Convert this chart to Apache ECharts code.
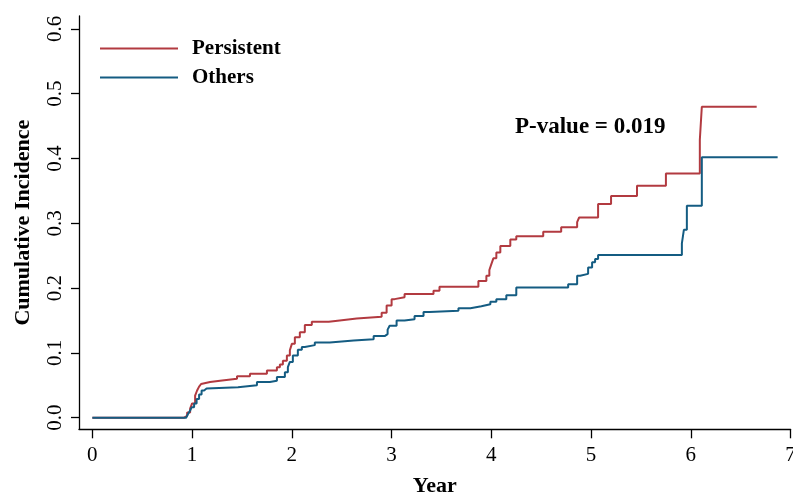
<!DOCTYPE html>
<html>
<head>
<meta charset="utf-8">
<script src="https://cdn.jsdelivr.net/npm/echarts@6/dist/echarts.min.js"></script>
<style>
html,body{margin:0;padding:0;background:#fff;}
#chart{width:793px;height:495px;}
</style>
</head>
<body>
<div id="chart"></div>
<script>
var xTicks = [0, 1, 2, 3, 4, 5, 6, 7];
var yTicks = [0, 0.1, 0.2, 0.3, 0.4, 0.5, 0.6];
var seriesNames = ['Persistent', 'Others'];
var persistent = [
  [0,0],[0.92,0],[0.93,0.003],[0.95,0.008],[0.98,0.014],[1.00,0.022],[1.03,0.034],[1.05,0.042],
  [1.07,0.048],[1.09,0.052],[1.11,0.055],[1.18,0.057],[1.28,0.060],
  [1.45,0.064],[1.58,0.068],[1.75,0.073],[1.85,0.078],[1.88,0.082],[1.91,0.088],[1.95,0.096],[1.98,0.104],
  [2.00,0.114],[2.03,0.124],[2.08,0.132],[2.13,0.143],[2.20,0.148],[2.37,0.150],[2.48,0.153],[2.65,0.156],[2.90,0.162],
  [2.95,0.173],[3.00,0.183],[3.03,0.186],[3.13,0.191],[3.42,0.196],[3.48,0.202],[3.87,0.211],
  [3.95,0.219],[3.98,0.228],[4.00,0.237],[4.02,0.246],[4.05,0.255],[4.09,0.265],[4.19,0.275],[4.25,0.280],[4.52,0.287],
  [4.70,0.294],[4.86,0.302],[4.88,0.309],[5.07,0.330],[5.20,0.342],[5.46,0.358],[5.75,0.377],
  [6.09,0.429],[6.11,0.480],[6.66,0.480]
];
var others = [
  [0,0],[0.94,0],[0.96,0.006],[0.98,0.011],[0.995,0.016],[1.02,0.022],[1.045,0.029],[1.07,0.036],[1.095,0.042],
  [1.12,0.045],[1.145,0.047],[1.46,0.050],[1.65,0.055],
  [1.78,0.057],[1.85,0.063],[1.93,0.070],[1.96,0.078],[1.98,0.086],[2.01,0.096],[2.06,0.105],[2.10,0.109],
  [2.13,0.112],[2.23,0.116],[2.38,0.119],[2.62,0.121],[2.82,0.126],[2.93,0.129],[2.96,0.136],[2.98,0.142],
  [3.05,0.150],[3.13,0.152],[3.23,0.157],[3.32,0.163],[3.38,0.165],[3.67,0.169],[3.79,0.172],
  [3.90,0.175],[3.99,0.179],[4.05,0.183],[4.15,0.189],[4.25,0.201],[4.77,0.206],[4.86,0.219],
  [4.89,0.222],[4.97,0.232],[5.01,0.240],[5.04,0.245],[5.07,0.251],[5.91,0.269],[5.93,0.290],
  [5.96,0.327],[6.11,0.402],[6.87,0.402]
];
var pValueText = 'P-value = 0.019';

var serif = '"Liberation Serif", "Times New Roman", serif';
var chart = echarts.init(document.getElementById('chart'), null, {renderer: 'canvas'});
chart.setOption({
  animation: false,
  backgroundColor: '#fff',
  title: {
    text: pValueText,
    left: 515, top: 116,
    padding: 0,
    textStyle: {fontFamily: serif, fontWeight: 'bold', fontSize: 23, color: '#000'}
  },
  legend: {
    orient: 'vertical',
    left: 100, top: 38,
    padding: 0,
    itemWidth: 78, itemHeight: 2,
    itemGap: 8,
    icon: 'rect',
    data: seriesNames,
    textStyle: {fontFamily: serif, fontWeight: 'bold', fontSize: 21, color: '#000', lineHeight: 21, padding: [0, 0, 0, 9]}
  },
  grid: {left: 79, right: 2.4, top: 16, bottom: 65.7, containLabel: false, outerBoundsMode: 'none'},
  xAxis: {
    type: 'value',
    min: -0.134, max: 7,
    name: 'Year',
    nameLocation: 'middle',
    nameGap: 46,
    nameTextStyle: {fontFamily: serif, fontWeight: 'bold', fontSize: 22, color: '#000'},
    axisLine: {show: true, onZero: false, lineStyle: {color: '#000', width: 1.3}},
    axisTick: {show: true, length: 9, customValues: xTicks, lineStyle: {color: '#000', width: 1.3}},
    axisLabel: {customValues: xTicks, margin: 16, fontFamily: serif, fontSize: 21, color: '#000', hideOverlap: false},
    splitLine: {show: false}
  },
  yAxis: {
    type: 'value',
    min: -0.0179, max: 0.62,
    name: 'Cumulative Incidence',
    nameLocation: 'middle',
    nameGap: 45,
    nameRotate: 90,
    nameTextStyle: {fontFamily: serif, fontWeight: 'bold', fontSize: 22, color: '#000'},
    axisLine: {show: true, onZero: false, lineStyle: {color: '#000', width: 1.3}},
    axisTick: {show: true, length: 8, customValues: yTicks, lineStyle: {color: '#000', width: 1.3}},
    axisLabel: {customValues: yTicks, rotate: 90, margin: 13, fontFamily: serif, fontSize: 21, color: '#000',
      formatter: function (v) { return v.toFixed(1); }},
    splitLine: {show: false}
  },
  series: [
    {name: seriesNames[0], type: 'line', step: 'end', data: persistent, symbol: 'none',
     lineStyle: {color: '#B23A40', width: 2}, itemStyle: {color: '#B23A40'}},
    {name: seriesNames[1], type: 'line', step: 'end', data: others, symbol: 'none',
     lineStyle: {color: '#145C82', width: 2}, itemStyle: {color: '#145C82'}}
  ]
});
</script>
</body>
</html>
